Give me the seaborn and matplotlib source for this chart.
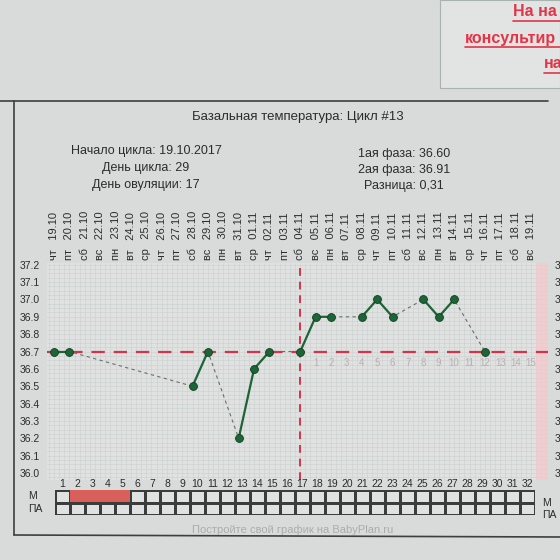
import numpy as np
import pandas as pd
import seaborn as sns
import matplotlib.pyplot as plt
from matplotlib.colors import ListedColormap
from matplotlib.ticker import MultipleLocator
from matplotlib.lines import Line2D

# --- data ---
cycle_days = list(range(1, 33))
weekdays = ["чт", "пт", "сб", "вс", "пн", "вт", "ср", "чт", "пт", "сб", "вс",
            "пн", "вт", "ср", "чт", "пт", "сб", "вс", "пн", "вт", "ср", "чт",
            "пт", "сб", "вс", "пн", "вт", "ср", "чт", "пт", "сб", "вс"]
dates = ["19.10", "20.10", "21.10", "22.10", "23.10", "24.10", "25.10", "26.10",
         "27.10", "28.10", "29.10", "30.10", "31.10", "01.11", "02.11", "03.11",
         "04.11", "05.11", "06.11", "07.11", "08.11", "09.11", "10.11", "11.11",
         "12.11", "13.11", "14.11", "15.11", "16.11", "17.11", "18.11", "19.11"]

temp_days = [1, 2, 10, 11, 13, 14, 15, 17, 18, 19, 21, 22, 23, 25, 26, 27, 29]
temps = [36.7, 36.7, 36.5, 36.7, 36.2, 36.6, 36.7, 36.7, 36.9, 36.9, 36.9,
         37.0, 36.9, 37.0, 36.9, 37.0, 36.7]

y_ticks = [36.0, 36.1, 36.2, 36.3, 36.4, 36.5, 36.6, 36.7, 36.8, 36.9, 37.0, 37.1, 37.2]
coverline = 36.7
ovulation_day = 17
menses_days = [2, 3, 4, 5]
luteal_labels = list(range(1, 16))  # days after ovulation, shown under coverline

title = "Базальная температура: Цикл #13"
info_left = ["Начало цикла: 19.10.2017", "День цикла: 29", "День овуляции: 17"]
info_right = ["1ая фаза: 36.60", "2ая фаза: 36.91", "Разница: 0,31"]

# --- frames ---
df = pd.DataFrame({"day": temp_days, "temp": temps})
# consecutive days form one solid run, gaps get the thin dashed line
df["run"] = np.cumsum(np.r_[1, np.diff(df["day"]) > 1])

table = pd.DataFrame(
    [[1 if d in menses_days else 0 for d in cycle_days], [0] * len(cycle_days)],
    index=["М", "ПА"], columns=cycle_days)

# --- style ---
sns.set_style("white")
plt.rcParams["font.family"] = ["Liberation Sans", "DejaVu Sans"]
bg = "#d8dbda"
txt = "#2b2d2d"
green = "#1d6436"
red = "#d6334b"

W = H = 560
def box(l, t, r, b):
    return [l / W, 1 - b / H, (r - l) / W, (b - t) / H]

fig = plt.figure(figsize=(5.6, 5.6), dpi=100, facecolor=bg)

# page frame bits from the screenshot
fig.add_artist(plt.Rectangle((440 / W, 1 - 88 / H), 120 / W, 88 / H, transform=fig.transFigure,
                             facecolor="#e1e4e3", edgecolor="#a8b2ae", lw=0.8))
for s, x0, y0 in [("На на", 513, 12), ("консультир", 465, 38), ("на", 544, 64)]:
    fig.text(x0 / W, 1 - y0 / H, s, color="#e23547", fontsize=11.5, fontweight="bold",
             ha="left", va="center")
    fig.add_artist(Line2D([x0 / W, 1], [1 - (y0 + 9) / H] * 2, color="#e23547", lw=1.2))
fig.add_artist(Line2D([0, 548 / W], [1 - 101 / H] * 2, color="#3c3f3e", lw=1.2))
fig.add_artist(Line2D([14 / W, 14 / W], [1 - 101 / H, 1 - 535 / H], color="#3c3f3e", lw=1.2))
fig.add_artist(Line2D([14 / W, 1], [1 - 535 / H, 1 - 537 / H], color="#3c3f3e", lw=1.2))

fig.text(298 / W, 1 - 117 / H, title, ha="center", va="center", fontsize=9.5, color=txt)
for i, s in enumerate(info_left):
    fig.text(146 / W, 1 - (151 + 17 * i) / H, s, ha="center", va="center", fontsize=9, color=txt)
for i, s in enumerate(info_right):
    fig.text(404 / W, 1 - (154 + 16 * i) / H, s, ha="center", va="center", fontsize=9, color=txt)
fig.text(293 / W, 1 - 530 / H, "Постройте свой график на BabyPlan.ru",
         ha="center", va="center", fontsize=8, color="#a9adac")

# --- temperature chart ---
ax = fig.add_axes(box(47, 263, 548, 480))
ax.set_facecolor("#dfe2e0")
ax.axvspan(32.35, 33.1, color="#f2c9cc", alpha=0.8, lw=0)

sns.lineplot(data=df, x="day", y="temp", estimator=None, sort=True, ax=ax,
             color="#6b6e6d", lw=0.8, dashes=False, linestyle=(0, (3, 3)), zorder=3)
sns.lineplot(data=df, x="day", y="temp", units="run", estimator=None, ax=ax,
             color=green, lw=1.6, zorder=4)
sns.scatterplot(data=df, x="day", y="temp", ax=ax, color=green, s=32,
                edgecolor="#0f3d20", linewidth=0.6, zorder=5)

ax.axhline(coverline, color=red, lw=1.6, dashes=(6, 4), zorder=2)
ax.axvline(ovulation_day, color=red, lw=1.4, dashes=(4, 3), zorder=2)
for k in luteal_labels:
    ax.text(ovulation_day + k, coverline - 0.065, str(k), ha="center", va="center",
            fontsize=7, color="#bcaeb2", zorder=1)

ax.set_xlim(0.545, 33.1)
ax.set_ylim(35.96, 37.21)
ax.set_xticks(cycle_days)
ax.set_xticklabels([f"{w}   {d}" for w, d in zip(weekdays, dates)], rotation=90)
ax.set_yticks(y_ticks)
ax.set_yticklabels([f"{v:.1f}" for v in y_ticks])
ax.xaxis.set_minor_locator(MultipleLocator(1 / 3))
ax.yaxis.set_minor_locator(MultipleLocator(0.025))
ax.grid(which="both", color="#cbd0ce", lw=0.4)
ax.tick_params(axis="x", which="both", length=0, top=True, labeltop=True,
               bottom=False, labelbottom=False, pad=2, labelsize=8, labelcolor=txt)
ax.tick_params(axis="y", which="both", length=0, left=False, right=False,
               labelleft=True, labelright=True, pad=5, labelsize=7.5, labelcolor=txt)
ax.set_xlabel("")
ax.set_ylabel("")
for sp in ax.spines.values():
    sp.set_visible(False)

# --- menstruation table ---
tax = fig.add_axes(box(55, 490, 535, 515))
sns.heatmap(table, ax=tax, cmap=ListedColormap(["#dfe2e0", "#d9605a"]), vmin=0, vmax=1,
            cbar=False, linewidths=0.8, linecolor="#3a3d3c",
            xticklabels=False, yticklabels=False)
tax.bar([cycle_days.index(d) + 0.5 for d in menses_days], 0.9, bottom=0.03, width=1.0,
        color="#d9605a", lw=0, zorder=3)
for i, d in enumerate(cycle_days):
    tax.text(i + 0.5, -0.45, str(d), ha="center", va="center", fontsize=7.5,
             color=txt, clip_on=False)
for j, name in enumerate(table.index):
    tax.text(-1.8, j + 0.5, name, ha="left", va="center", fontsize=7.5, color=txt, clip_on=False)
    tax.text(32.5, j + 1.0, name, ha="left", va="center", fontsize=7.5, color=txt, clip_on=False)
tax.set_xlabel("")
tax.set_ylabel("")

fig.savefig("out.png", dpi=100, facecolor=bg)
